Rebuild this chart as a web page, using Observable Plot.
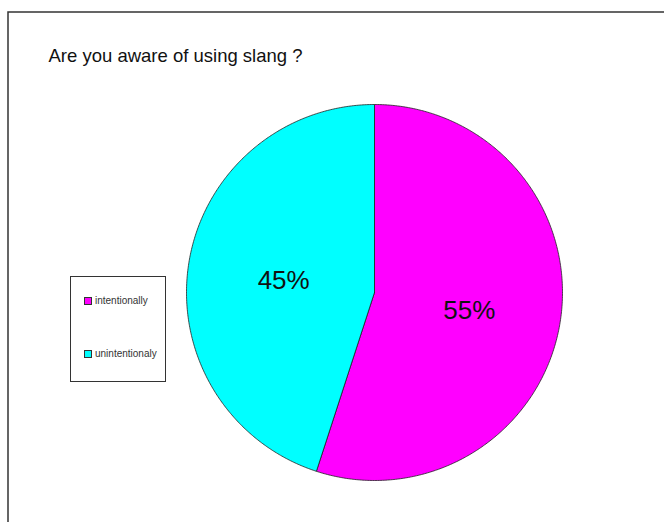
<!DOCTYPE html>
<html><head><meta charset="utf-8">
<script src="https://cdn.jsdelivr.net/npm/d3@7"></script>
<script src="https://cdn.jsdelivr.net/npm/@observablehq/plot@0.6"></script>
<style>
html,body{margin:0;padding:0;background:#fff;}
#wrap{position:relative;width:664px;height:522px;overflow:hidden;font-family:"Liberation Sans",Arial,sans-serif;}
#legend{position:absolute;left:70px;top:276px;width:94px;height:104px;border:1px solid #333;background:#fff;}
.item{position:absolute;left:13px;font-size:10px;color:#333;display:flex;align-items:center;white-space:nowrap;}
.sw{width:6px;height:6px;border:1px solid #333;margin-right:3px;}
</style></head>
<body><div id="wrap"><div id="chart"></div><div id="legend"></div></div>
<script>
const title = "Are you aware of using slang ?";
const categories = ["intentionally", "unintentionaly"];
const values = [55, 45];
const colors = ["#ff00ff", "#00ffff"];
const labels = ["55%", "45%"];

const arcs = d3.pie().sort(null)(values);
const slicePts = [];
const labelPts = [];
arcs.forEach((a, i) => {
  const cat = categories[i];
  slicePts.push({cat, x: 0, y: 0});
  const n = Math.max(2, Math.ceil((a.endAngle - a.startAngle) / (Math.PI / 360)));
  for (let k = 0; k <= n; k++) {
    const t = a.startAngle + (a.endAngle - a.startAngle) * k / n;
    slicePts.push({cat, x: Math.sin(t), y: Math.cos(t)});
  }
  slicePts.push({cat, x: 0, y: 0});
  const m = (a.startAngle + a.endAngle) / 2;
  labelPts.push({label: labels[i], x: 0.5 * Math.sin(m), y: 0.5 * Math.cos(m)});
});

const chart = Plot.plot({
  width: 664, height: 522,
  margin: 0,
  style: {fontFamily: "Liberation Sans, Arial, sans-serif", background: "#fff"},
  x: {domain: [-1, 1], range: [186, 562], axis: null},
  y: {domain: [-1, 1], range: [480, 104], axis: null},
  color: {domain: categories, range: colors},
  marks: [
    Plot.frame({stroke: "#333", strokeWidth: 1.5, insetLeft: 7.5, insetTop: 11.5, insetRight: -10, insetBottom: -10}),
    Plot.line(slicePts, {x: "x", y: "y", z: "cat", fill: "cat", stroke: "#222", strokeWidth: 0.8, strokeLinejoin: "round"}),
    Plot.text(labelPts, {x: "x", y: "y", text: "label", fontSize: 26, fill: "#111", dx: 2, dy: 3}),
    Plot.text([title], {text: d => d, frameAnchor: "top-left", dx: 48, dy: 48, fontSize: 18.5, fill: "#111", textAnchor: "start", lineAnchor: "top"})
  ]
});
document.getElementById("chart").appendChild(chart);

const leg = document.getElementById("legend");
categories.forEach((c, i) => {
  const it = document.createElement("div");
  it.className = "item";
  it.style.top = (i === 0 ? 18 : 71) + "px";
  it.innerHTML = `<span class="sw" style="background:${colors[i]}"></span><span>${c}</span>`;
  leg.appendChild(it);
});
</script>
</body></html>
